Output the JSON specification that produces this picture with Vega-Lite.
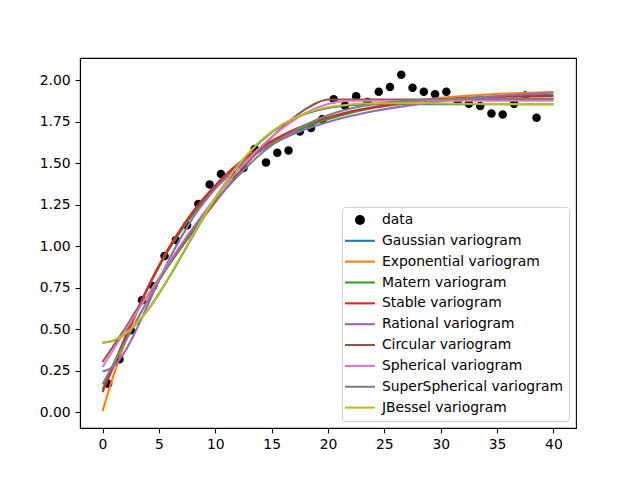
{
  "$schema": "https://vega.github.io/schema/vega-lite/v6.json",
  "width": 496,
  "height": 370,
  "autosize": {"type": "none"},
  "padding": {"left": 80, "top": 58, "right": 64, "bottom": 52},
  "background": "white",
  "config": {
    "view": {"stroke": "black", "strokeWidth": 1.1},
    "axis": {
      "grid": false,
      "domainColor": "black",
      "domainWidth": 1.1,
      "tickColor": "black",
      "tickWidth": 1.1,
      "tickSize": 4.9,
      "labelFont": "DejaVu Sans",
      "labelFontSize": 13.9,
      "labelColor": "black",
      "labelPadding": 4.9,
      "title": null
    },
    "legend": {
      "labelFont": "DejaVu Sans",
      "labelFontSize": 13.9,
      "labelColor": "black",
      "labelLimit": 400
    }
  },
  "datasets": {
    "binned": [
      {"series": "data", "lag": 0.5, "gamma": 0.171},
      {"series": "data", "lag": 1.5, "gamma": 0.318},
      {"series": "data", "lag": 2.5, "gamma": 0.494},
      {"series": "data", "lag": 3.5, "gamma": 0.675},
      {"series": "data", "lag": 4.5, "gamma": 0.759},
      {"series": "data", "lag": 5.5, "gamma": 0.941},
      {"series": "data", "lag": 6.5, "gamma": 1.037},
      {"series": "data", "lag": 7.5, "gamma": 1.126},
      {"series": "data", "lag": 8.5, "gamma": 1.255},
      {"series": "data", "lag": 9.5, "gamma": 1.372},
      {"series": "data", "lag": 10.5, "gamma": 1.436},
      {"series": "data", "lag": 11.5, "gamma": 1.434},
      {"series": "data", "lag": 12.5, "gamma": 1.472},
      {"series": "data", "lag": 13.5, "gamma": 1.587},
      {"series": "data", "lag": 14.5, "gamma": 1.505},
      {"series": "data", "lag": 15.5, "gamma": 1.563},
      {"series": "data", "lag": 16.5, "gamma": 1.577},
      {"series": "data", "lag": 17.5, "gamma": 1.692},
      {"series": "data", "lag": 18.5, "gamma": 1.713},
      {"series": "data", "lag": 19.5, "gamma": 1.765},
      {"series": "data", "lag": 20.5, "gamma": 1.886},
      {"series": "data", "lag": 21.5, "gamma": 1.849},
      {"series": "data", "lag": 22.5, "gamma": 1.905},
      {"series": "data", "lag": 23.5, "gamma": 1.869},
      {"series": "data", "lag": 24.5, "gamma": 1.932},
      {"series": "data", "lag": 25.5, "gamma": 1.960},
      {"series": "data", "lag": 26.5, "gamma": 2.034},
      {"series": "data", "lag": 27.5, "gamma": 1.956},
      {"series": "data", "lag": 28.5, "gamma": 1.932},
      {"series": "data", "lag": 29.5, "gamma": 1.917},
      {"series": "data", "lag": 30.5, "gamma": 1.932},
      {"series": "data", "lag": 31.5, "gamma": 1.875},
      {"series": "data", "lag": 32.5, "gamma": 1.859},
      {"series": "data", "lag": 33.5, "gamma": 1.845},
      {"series": "data", "lag": 34.5, "gamma": 1.801},
      {"series": "data", "lag": 35.5, "gamma": 1.795},
      {"series": "data", "lag": 36.5, "gamma": 1.859},
      {"series": "data", "lag": 37.5, "gamma": 1.909},
      {"series": "data", "lag": 38.5, "gamma": 1.775}
    ],
    "models": [
      {"series": "Gaussian variogram", "lag": 0, "gamma": 0.418},
      {"series": "Gaussian variogram", "lag": 1, "gamma": 0.431},
      {"series": "Gaussian variogram", "lag": 2, "gamma": 0.470},
      {"series": "Gaussian variogram", "lag": 3, "gamma": 0.532},
      {"series": "Gaussian variogram", "lag": 4, "gamma": 0.614},
      {"series": "Gaussian variogram", "lag": 5, "gamma": 0.713},
      {"series": "Gaussian variogram", "lag": 6, "gamma": 0.823},
      {"series": "Gaussian variogram", "lag": 7, "gamma": 0.941},
      {"series": "Gaussian variogram", "lag": 8, "gamma": 1.061},
      {"series": "Gaussian variogram", "lag": 9, "gamma": 1.178},
      {"series": "Gaussian variogram", "lag": 10, "gamma": 1.289},
      {"series": "Gaussian variogram", "lag": 11, "gamma": 1.391},
      {"series": "Gaussian variogram", "lag": 12, "gamma": 1.482},
      {"series": "Gaussian variogram", "lag": 14, "gamma": 1.630},
      {"series": "Gaussian variogram", "lag": 16, "gamma": 1.733},
      {"series": "Gaussian variogram", "lag": 18, "gamma": 1.798},
      {"series": "Gaussian variogram", "lag": 20, "gamma": 1.834},
      {"series": "Gaussian variogram", "lag": 22, "gamma": 1.850},
      {"series": "Gaussian variogram", "lag": 24, "gamma": 1.856},
      {"series": "Gaussian variogram", "lag": 28, "gamma": 1.857},
      {"series": "Gaussian variogram", "lag": 32, "gamma": 1.856},
      {"series": "Gaussian variogram", "lag": 36, "gamma": 1.856},
      {"series": "Gaussian variogram", "lag": 40, "gamma": 1.856},

      {"series": "Exponential variogram", "lag": 0, "gamma": 0.006},
      {"series": "Exponential variogram", "lag": 1, "gamma": 0.226},
      {"series": "Exponential variogram", "lag": 2, "gamma": 0.421},
      {"series": "Exponential variogram", "lag": 3, "gamma": 0.594},
      {"series": "Exponential variogram", "lag": 4, "gamma": 0.748},
      {"series": "Exponential variogram", "lag": 5, "gamma": 0.884},
      {"series": "Exponential variogram", "lag": 6, "gamma": 1.004},
      {"series": "Exponential variogram", "lag": 7, "gamma": 1.111},
      {"series": "Exponential variogram", "lag": 8, "gamma": 1.206},
      {"series": "Exponential variogram", "lag": 9, "gamma": 1.290},
      {"series": "Exponential variogram", "lag": 10, "gamma": 1.364},
      {"series": "Exponential variogram", "lag": 11, "gamma": 1.431},
      {"series": "Exponential variogram", "lag": 12, "gamma": 1.489},
      {"series": "Exponential variogram", "lag": 14, "gamma": 1.587},
      {"series": "Exponential variogram", "lag": 16, "gamma": 1.664},
      {"series": "Exponential variogram", "lag": 18, "gamma": 1.724},
      {"series": "Exponential variogram", "lag": 20, "gamma": 1.772},
      {"series": "Exponential variogram", "lag": 22, "gamma": 1.809},
      {"series": "Exponential variogram", "lag": 24, "gamma": 1.838},
      {"series": "Exponential variogram", "lag": 28, "gamma": 1.879},
      {"series": "Exponential variogram", "lag": 32, "gamma": 1.905},
      {"series": "Exponential variogram", "lag": 36, "gamma": 1.921},
      {"series": "Exponential variogram", "lag": 40, "gamma": 1.930},

      {"series": "Matern variogram", "lag": 0, "gamma": 0.137},
      {"series": "Matern variogram", "lag": 1, "gamma": 0.290},
      {"series": "Matern variogram", "lag": 2, "gamma": 0.450},
      {"series": "Matern variogram", "lag": 3, "gamma": 0.603},
      {"series": "Matern variogram", "lag": 4, "gamma": 0.745},
      {"series": "Matern variogram", "lag": 5, "gamma": 0.874},
      {"series": "Matern variogram", "lag": 6, "gamma": 0.992},
      {"series": "Matern variogram", "lag": 7, "gamma": 1.097},
      {"series": "Matern variogram", "lag": 8, "gamma": 1.191},
      {"series": "Matern variogram", "lag": 9, "gamma": 1.276},
      {"series": "Matern variogram", "lag": 10, "gamma": 1.351},
      {"series": "Matern variogram", "lag": 11, "gamma": 1.418},
      {"series": "Matern variogram", "lag": 12, "gamma": 1.478},
      {"series": "Matern variogram", "lag": 14, "gamma": 1.578},
      {"series": "Matern variogram", "lag": 16, "gamma": 1.656},
      {"series": "Matern variogram", "lag": 18, "gamma": 1.718},
      {"series": "Matern variogram", "lag": 20, "gamma": 1.766},
      {"series": "Matern variogram", "lag": 22, "gamma": 1.804},
      {"series": "Matern variogram", "lag": 24, "gamma": 1.833},
      {"series": "Matern variogram", "lag": 28, "gamma": 1.872},
      {"series": "Matern variogram", "lag": 32, "gamma": 1.894},
      {"series": "Matern variogram", "lag": 36, "gamma": 1.906},
      {"series": "Matern variogram", "lag": 40, "gamma": 1.913},

      {"series": "Stable variogram", "lag": 0, "gamma": 0.120},
      {"series": "Stable variogram", "lag": 1, "gamma": 0.281},
      {"series": "Stable variogram", "lag": 2, "gamma": 0.448},
      {"series": "Stable variogram", "lag": 3, "gamma": 0.605},
      {"series": "Stable variogram", "lag": 4, "gamma": 0.750},
      {"series": "Stable variogram", "lag": 5, "gamma": 0.882},
      {"series": "Stable variogram", "lag": 6, "gamma": 1.002},
      {"series": "Stable variogram", "lag": 7, "gamma": 1.109},
      {"series": "Stable variogram", "lag": 8, "gamma": 1.205},
      {"series": "Stable variogram", "lag": 9, "gamma": 1.291},
      {"series": "Stable variogram", "lag": 10, "gamma": 1.367},
      {"series": "Stable variogram", "lag": 11, "gamma": 1.435},
      {"series": "Stable variogram", "lag": 12, "gamma": 1.495},
      {"series": "Stable variogram", "lag": 14, "gamma": 1.594},
      {"series": "Stable variogram", "lag": 16, "gamma": 1.671},
      {"series": "Stable variogram", "lag": 18, "gamma": 1.731},
      {"series": "Stable variogram", "lag": 20, "gamma": 1.777},
      {"series": "Stable variogram", "lag": 22, "gamma": 1.812},
      {"series": "Stable variogram", "lag": 24, "gamma": 1.838},
      {"series": "Stable variogram", "lag": 28, "gamma": 1.873},
      {"series": "Stable variogram", "lag": 32, "gamma": 1.891},
      {"series": "Stable variogram", "lag": 36, "gamma": 1.901},
      {"series": "Stable variogram", "lag": 40, "gamma": 1.906},

      {"series": "Rational variogram", "lag": 0, "gamma": 0.244},
      {"series": "Rational variogram", "lag": 1, "gamma": 0.277},
      {"series": "Rational variogram", "lag": 2, "gamma": 0.367},
      {"series": "Rational variogram", "lag": 3, "gamma": 0.497},
      {"series": "Rational variogram", "lag": 4, "gamma": 0.644},
      {"series": "Rational variogram", "lag": 5, "gamma": 0.793},
      {"series": "Rational variogram", "lag": 6, "gamma": 0.933},
      {"series": "Rational variogram", "lag": 7, "gamma": 1.058},
      {"series": "Rational variogram", "lag": 8, "gamma": 1.169},
      {"series": "Rational variogram", "lag": 9, "gamma": 1.264},
      {"series": "Rational variogram", "lag": 10, "gamma": 1.346},
      {"series": "Rational variogram", "lag": 11, "gamma": 1.416},
      {"series": "Rational variogram", "lag": 12, "gamma": 1.477},
      {"series": "Rational variogram", "lag": 14, "gamma": 1.574},
      {"series": "Rational variogram", "lag": 16, "gamma": 1.648},
      {"series": "Rational variogram", "lag": 18, "gamma": 1.705},
      {"series": "Rational variogram", "lag": 20, "gamma": 1.749},
      {"series": "Rational variogram", "lag": 22, "gamma": 1.785},
      {"series": "Rational variogram", "lag": 24, "gamma": 1.814},
      {"series": "Rational variogram", "lag": 28, "gamma": 1.857},
      {"series": "Rational variogram", "lag": 32, "gamma": 1.888},
      {"series": "Rational variogram", "lag": 36, "gamma": 1.910},
      {"series": "Rational variogram", "lag": 40, "gamma": 1.927},

      {"series": "Circular variogram", "lag": 0, "gamma": 0.302},
      {"series": "Circular variogram", "lag": 1, "gamma": 0.403},
      {"series": "Circular variogram", "lag": 2, "gamma": 0.503},
      {"series": "Circular variogram", "lag": 3, "gamma": 0.613},
      {"series": "Circular variogram", "lag": 4, "gamma": 0.702},
      {"series": "Circular variogram", "lag": 5, "gamma": 0.801},
      {"series": "Circular variogram", "lag": 6, "gamma": 0.897},
      {"series": "Circular variogram", "lag": 7, "gamma": 0.993},
      {"series": "Circular variogram", "lag": 8, "gamma": 1.086},
      {"series": "Circular variogram", "lag": 9, "gamma": 1.177},
      {"series": "Circular variogram", "lag": 10, "gamma": 1.266},
      {"series": "Circular variogram", "lag": 11, "gamma": 1.352},
      {"series": "Circular variogram", "lag": 12, "gamma": 1.434},
      {"series": "Circular variogram", "lag": 14, "gamma": 1.587},
      {"series": "Circular variogram", "lag": 16, "gamma": 1.720},
      {"series": "Circular variogram", "lag": 18, "gamma": 1.826},
      {"series": "Circular variogram", "lag": 19, "gamma": 1.864},
      {"series": "Circular variogram", "lag": 20, "gamma": 1.885},
      {"series": "Circular variogram", "lag": 24, "gamma": 1.885},
      {"series": "Circular variogram", "lag": 32, "gamma": 1.885},
      {"series": "Circular variogram", "lag": 40, "gamma": 1.885},

      {"series": "Spherical variogram", "lag": 0, "gamma": 0.272},
      {"series": "Spherical variogram", "lag": 1, "gamma": 0.381},
      {"series": "Spherical variogram", "lag": 2, "gamma": 0.490},
      {"series": "Spherical variogram", "lag": 3, "gamma": 0.598},
      {"series": "Spherical variogram", "lag": 4, "gamma": 0.705},
      {"series": "Spherical variogram", "lag": 5, "gamma": 0.810},
      {"series": "Spherical variogram", "lag": 6, "gamma": 0.912},
      {"series": "Spherical variogram", "lag": 7, "gamma": 1.012},
      {"series": "Spherical variogram", "lag": 8, "gamma": 1.109},
      {"series": "Spherical variogram", "lag": 9, "gamma": 1.202},
      {"series": "Spherical variogram", "lag": 10, "gamma": 1.291},
      {"series": "Spherical variogram", "lag": 11, "gamma": 1.375},
      {"series": "Spherical variogram", "lag": 12, "gamma": 1.455},
      {"series": "Spherical variogram", "lag": 14, "gamma": 1.597},
      {"series": "Spherical variogram", "lag": 16, "gamma": 1.714},
      {"series": "Spherical variogram", "lag": 18, "gamma": 1.802},
      {"series": "Spherical variogram", "lag": 20, "gamma": 1.858},
      {"series": "Spherical variogram", "lag": 21, "gamma": 1.872},
      {"series": "Spherical variogram", "lag": 22, "gamma": 1.877},
      {"series": "Spherical variogram", "lag": 28, "gamma": 1.877},
      {"series": "Spherical variogram", "lag": 34, "gamma": 1.877},
      {"series": "Spherical variogram", "lag": 40, "gamma": 1.877},

      {"series": "SuperSpherical variogram", "lag": 0, "gamma": 0.167},
      {"series": "SuperSpherical variogram", "lag": 1, "gamma": 0.295},
      {"series": "SuperSpherical variogram", "lag": 2, "gamma": 0.423},
      {"series": "SuperSpherical variogram", "lag": 3, "gamma": 0.549},
      {"series": "SuperSpherical variogram", "lag": 4, "gamma": 0.672},
      {"series": "SuperSpherical variogram", "lag": 5, "gamma": 0.790},
      {"series": "SuperSpherical variogram", "lag": 6, "gamma": 0.902},
      {"series": "SuperSpherical variogram", "lag": 7, "gamma": 1.006},
      {"series": "SuperSpherical variogram", "lag": 8, "gamma": 1.102},
      {"series": "SuperSpherical variogram", "lag": 9, "gamma": 1.191},
      {"series": "SuperSpherical variogram", "lag": 10, "gamma": 1.273},
      {"series": "SuperSpherical variogram", "lag": 11, "gamma": 1.350},
      {"series": "SuperSpherical variogram", "lag": 12, "gamma": 1.422},
      {"series": "SuperSpherical variogram", "lag": 14, "gamma": 1.555},
      {"series": "SuperSpherical variogram", "lag": 16, "gamma": 1.655},
      {"series": "SuperSpherical variogram", "lag": 18, "gamma": 1.732},
      {"series": "SuperSpherical variogram", "lag": 20, "gamma": 1.790},
      {"series": "SuperSpherical variogram", "lag": 22, "gamma": 1.830},
      {"series": "SuperSpherical variogram", "lag": 24, "gamma": 1.856},
      {"series": "SuperSpherical variogram", "lag": 28, "gamma": 1.882},
      {"series": "SuperSpherical variogram", "lag": 32, "gamma": 1.889},
      {"series": "SuperSpherical variogram", "lag": 36, "gamma": 1.890},
      {"series": "SuperSpherical variogram", "lag": 40, "gamma": 1.890},

      {"series": "JBessel variogram", "lag": 0, "gamma": 0.420},
      {"series": "JBessel variogram", "lag": 1, "gamma": 0.433},
      {"series": "JBessel variogram", "lag": 2, "gamma": 0.472},
      {"series": "JBessel variogram", "lag": 3, "gamma": 0.534},
      {"series": "JBessel variogram", "lag": 4, "gamma": 0.617},
      {"series": "JBessel variogram", "lag": 5, "gamma": 0.716},
      {"series": "JBessel variogram", "lag": 6, "gamma": 0.827},
      {"series": "JBessel variogram", "lag": 7, "gamma": 0.945},
      {"series": "JBessel variogram", "lag": 8, "gamma": 1.065},
      {"series": "JBessel variogram", "lag": 9, "gamma": 1.182},
      {"series": "JBessel variogram", "lag": 10, "gamma": 1.293},
      {"series": "JBessel variogram", "lag": 11, "gamma": 1.395},
      {"series": "JBessel variogram", "lag": 12, "gamma": 1.486},
      {"series": "JBessel variogram", "lag": 14, "gamma": 1.634},
      {"series": "JBessel variogram", "lag": 16, "gamma": 1.737},
      {"series": "JBessel variogram", "lag": 18, "gamma": 1.802},
      {"series": "JBessel variogram", "lag": 20, "gamma": 1.838},
      {"series": "JBessel variogram", "lag": 22, "gamma": 1.855},
      {"series": "JBessel variogram", "lag": 24, "gamma": 1.862},
      {"series": "JBessel variogram", "lag": 28, "gamma": 1.863},
      {"series": "JBessel variogram", "lag": 32, "gamma": 1.859},
      {"series": "JBessel variogram", "lag": 36, "gamma": 1.857},
      {"series": "JBessel variogram", "lag": 40, "gamma": 1.857}
    ]
  },
  "encoding": {
    "x": {
      "field": "lag",
      "type": "quantitative",
      "scale": {"domain": [-2, 42], "nice": false, "zero": false},
      "axis": {"values": [0, 5, 10, 15, 20, 25, 30, 35, 40]}
    },
    "y": {
      "field": "gamma",
      "type": "quantitative",
      "scale": {"domain": [-0.096, 2.135], "nice": false, "zero": false},
      "axis": {"values": [0, 0.25, 0.5, 0.75, 1, 1.25, 1.5, 1.75, 2], "format": ".2f"}
    }
  },
  "layer": [
    {
      "data": {"name": "binned"},
      "mark": {"type": "point", "filled": true, "size": 72, "opacity": 1},
      "encoding": {
        "color": {
          "field": "series",
          "type": "nominal",
          "scale": {
            "domain": ["data", "Gaussian variogram", "Exponential variogram", "Matern variogram", "Stable variogram", "Rational variogram", "Circular variogram", "Spherical variogram", "SuperSpherical variogram", "JBessel variogram"],
            "range": ["#000000", "#1f77b4", "#ff7f0e", "#2ca02c", "#d62728", "#9467bd", "#8c564b", "#e377c2", "#7f7f7f", "#bcbd22"]
          },
          "legend": {
            "title": null,
            "orient": "bottom-right",
            "offset": 7,
            "padding": 6,
            "rowPadding": 5.85,
            "fillColor": "rgba(255,255,255,0.8)",
            "strokeColor": "#cccccc",
            "cornerRadius": 3,
            "symbolSize": 100,
            "symbolOffset": 5,
            "labelOffset": 15,
            "symbolOpacity": 1,
            "encode": {
              "symbols": {
                "update": {
                  "shape": {"scale": "shape", "field": "value"},
                  "fill": {"signal": "datum.value === 'data' ? 'black' : 'transparent'"},
                  "stroke": {"scale": "color", "field": "value"},
                  "strokeWidth": {"signal": "datum.value === 'data' ? 0 : 2.08"},
                  "opacity": {"value": 1}
                }
              }
            }
          }
        },
        "shape": {
          "field": "series",
          "type": "nominal",
          "scale": {
            "domain": ["data", "Gaussian variogram", "Exponential variogram", "Matern variogram", "Stable variogram", "Rational variogram", "Circular variogram", "Spherical variogram", "SuperSpherical variogram", "JBessel variogram"],
            "range": ["circle", "M-3,0H3", "M-3,0H3", "M-3,0H3", "M-3,0H3", "M-3,0H3", "M-3,0H3", "M-3,0H3", "M-3,0H3", "M-3,0H3"]
          },
          "legend": {
            "title": null,
            "orient": "bottom-right",
            "offset": 7,
            "padding": 6,
            "rowPadding": 5.85,
            "fillColor": "rgba(255,255,255,0.8)",
            "strokeColor": "#cccccc",
            "cornerRadius": 3,
            "symbolSize": 100,
            "symbolOffset": 5,
            "labelOffset": 15,
            "symbolOpacity": 1
          }
        }
      }
    },
    {
      "data": {"name": "models"},
      "mark": {"type": "line", "strokeWidth": 2.08, "interpolate": "monotone"},
      "encoding": {
        "color": {"field": "series", "type": "nominal"}
      }
    }
  ]
}
